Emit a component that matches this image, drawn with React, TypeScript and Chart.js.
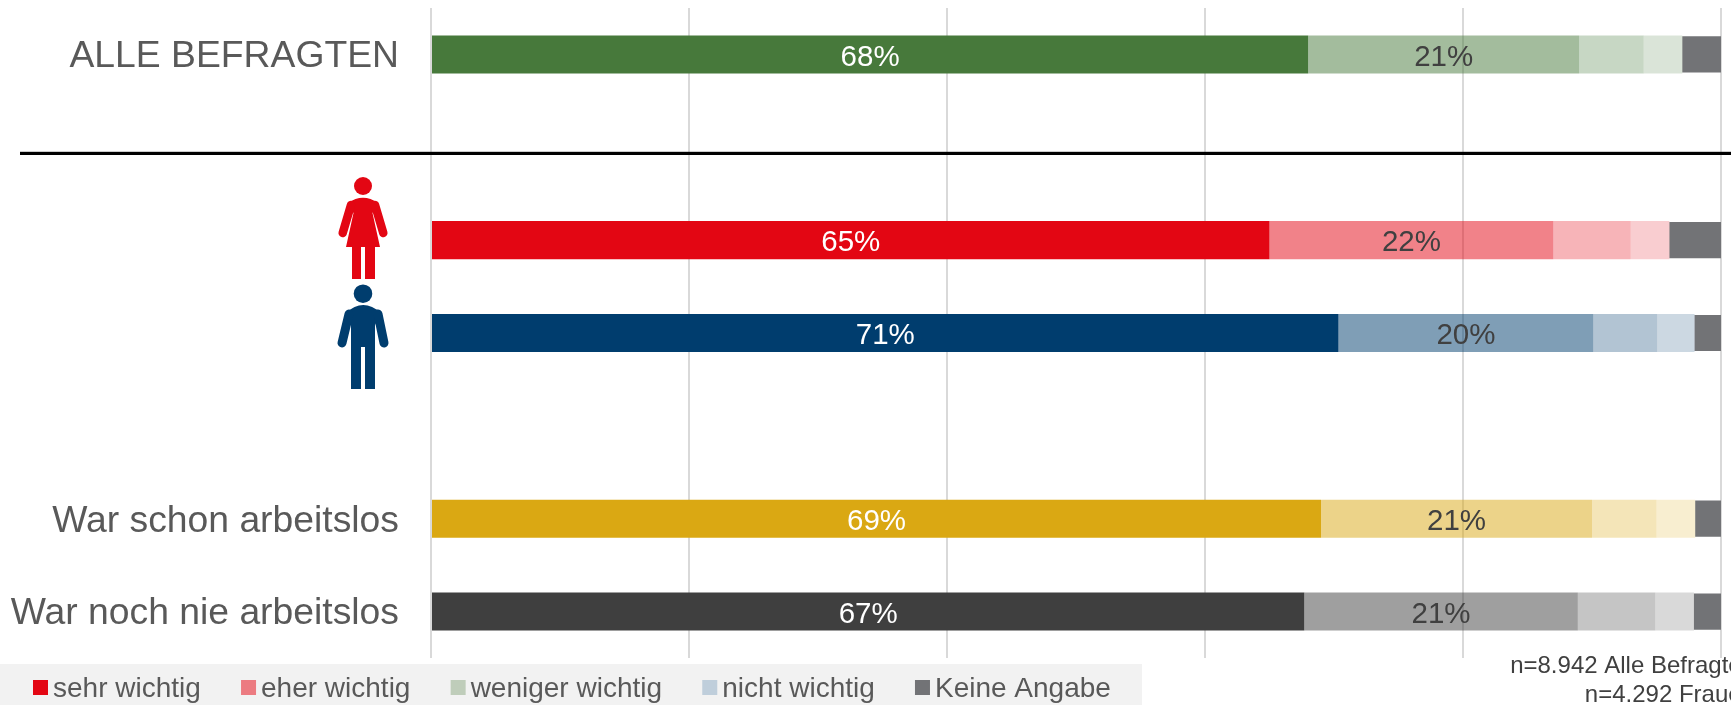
import React, { useEffect, useRef } from "react";
import { Chart, registerables } from "chart.js";

Chart.register(...registerables);

const categories = ["ALLE BEFRAGTEN", "", "", "", "", "War schon arbeitslos", "War noch nie arbeitslos"];
const seriesNames = ["sehr wichtig", "eher wichtig", "weniger wichtig", "nicht wichtig", "Keine Angabe"];

const sehrWichtig = [68, null, 65, 70.35, null, 69, 67.7];
const eherWichtig = [21, null, 22, 19.75, null, 21, 21.2];
const wenigerWichtig = [5, null, 6, 4.95, null, 5, 6];
const nichtWichtig = [3, null, 3, 2.9, null, 3, 3];
const keineAngabe = [3, null, 4, 2.05, null, 2, 2.1];

const sehrLabels = ["68%", "", "65%", "71%", "", "69%", "67%"];
const eherLabels = ["21%", "", "22%", "20%", "", "21%", "21%"];

const rowRgb = ["71,121,59", "", "227,6,19", "0,61,110", "", "218,168,19", "63,63,63"];
const legendColors = ["#E30613", "#EC7B81", "#BFCDBA", "#BFCEDB", "#727376"];
const noteLines = ["n=8.942 Alle Befragten", "n=4.292 Frauen"];

const FONT = '"Liberation Sans", Arial, sans-serif';
const shade = (alpha: number) => rowRgb.map((c) => (c ? `rgba(${c},${alpha})` : "transparent"));

function person(ctx: CanvasRenderingContext2D, female: boolean) {
  const cx = 363;
  ctx.save();
  ctx.lineCap = "round";
  ctx.lineJoin = "round";
  if (female) {
    ctx.fillStyle = ctx.strokeStyle = "#E30613";
    ctx.beginPath();
    ctx.arc(cx, 186, 9, 0, Math.PI * 2);
    ctx.fill();
    ctx.beginPath();
    ctx.moveTo(348, 203);
    ctx.quadraticCurveTo(cx, 192.5, 378, 203);
    ctx.lineTo(372.5, 213);
    ctx.lineTo(380, 247);
    ctx.lineTo(375, 247);
    ctx.lineTo(375, 279);
    ctx.lineTo(365, 279);
    ctx.lineTo(365, 247);
    ctx.lineTo(361, 247);
    ctx.lineTo(361, 279);
    ctx.lineTo(352, 279);
    ctx.lineTo(352, 247);
    ctx.lineTo(346, 247);
    ctx.lineTo(353.5, 213);
    ctx.closePath();
    ctx.fill();
    ctx.lineWidth = 8.5;
    ctx.beginPath();
    ctx.moveTo(351, 205);
    ctx.lineTo(342.7, 233);
    ctx.moveTo(375, 205);
    ctx.lineTo(383.3, 233);
    ctx.stroke();
  } else {
    ctx.fillStyle = ctx.strokeStyle = "#003D6E";
    ctx.beginPath();
    ctx.arc(cx, 293.7, 9.3, 0, Math.PI * 2);
    ctx.fill();
    ctx.beginPath();
    ctx.moveTo(346, 313);
    ctx.quadraticCurveTo(cx, 297, 381, 313);
    ctx.lineTo(375, 325);
    ctx.lineTo(375, 389);
    ctx.lineTo(365, 389);
    ctx.lineTo(365, 347);
    ctx.lineTo(361, 347);
    ctx.lineTo(361, 389);
    ctx.lineTo(351, 389);
    ctx.lineTo(351, 325);
    ctx.closePath();
    ctx.fill();
    ctx.lineWidth = 9;
    ctx.beginPath();
    ctx.moveTo(349, 314);
    ctx.lineTo(342, 343);
    ctx.moveTo(378, 314);
    ctx.lineTo(384, 343);
    ctx.stroke();
  }
  ctx.restore();
}

const overlay = {
  id: "overlay",
  beforeDraw(chart: any) {
    // nudge the category labels down to sit where the reference has them
    chart.scales.y.getLabelItems().forEach((item: any) => {
      if (!item.nudged) {
        item.textOffset += 2.5;
        item.nudged = true;
      }
    });
  },
  afterDraw(chart: any) {
    const ctx: CanvasRenderingContext2D = chart.ctx;
    ctx.save();

    // value labels of the first two series
    ctx.textAlign = "center";
    ctx.textBaseline = "middle";
    ctx.font = `29.5px ${FONT}`;
    [sehrLabels, eherLabels].forEach((labels, d) => {
      const meta = chart.getDatasetMeta(d);
      ctx.fillStyle = d === 0 ? "#FFFFFF" : "#404040";
      labels.forEach((t, i) => {
        if (!t) return;
        const bar = meta.data[i];
        ctx.fillText(t, (bar.x + bar.base) / 2, bar.y + 3);
      });
    });

    // divider
    ctx.fillStyle = "#000000";
    ctx.fillRect(20, 151.8, 1711, 3.2);

    person(ctx, true);
    person(ctx, false);

    // legend
    ctx.fillStyle = "#F2F2F2";
    ctx.fillRect(0, 664, 1142, 41);
    ctx.font = `28px ${FONT}`;
    ctx.textAlign = "left";
    ctx.textBaseline = "alphabetic";
    let x = 33;
    seriesNames.forEach((name, i) => {
      ctx.fillStyle = legendColors[i];
      ctx.fillRect(x, 680, 15, 15);
      ctx.fillStyle = "#595959";
      ctx.fillText(name, x + 20, 697);
      x += 20 + ctx.measureText(name).width + 40.2;
    });

    // sample sizes
    ctx.font = `24px ${FONT}`;
    ctx.fillStyle = "#404040";
    ctx.textAlign = "right";
    noteLines.forEach((line, i) => ctx.fillText(line, 1755, 673 + i * 29));
    ctx.restore();
  },
};

export default function App() {
  const ref = useRef<HTMLCanvasElement>(null);
  useEffect(() => {
    document.body.style.margin = "0";
    document.body.style.overflow = "hidden";
    const chart = new Chart(ref.current!, {
      type: "bar",
      data: {
        labels: categories,
        datasets: [
          { label: seriesNames[0], data: sehrWichtig, backgroundColor: shade(1) },
          { label: seriesNames[1], data: eherWichtig, backgroundColor: shade(0.5) },
          { label: seriesNames[2], data: wenigerWichtig, backgroundColor: shade(0.3) },
          { label: seriesNames[3], data: nichtWichtig, backgroundColor: shade(0.2) },
          { label: seriesNames[4], data: keineAngabe, backgroundColor: "#727376", barPercentage: 0.39 },
        ] as any,
      },
      options: {
        indexAxis: "y",
        animation: false,
        responsive: false,
        layout: { padding: { top: 8, bottom: 47, right: 10, left: 0 } },
        datasets: { bar: { barPercentage: 0.41, categoryPercentage: 1 } },
        plugins: { legend: { display: false }, title: { display: false }, tooltip: { enabled: false } },
        scales: {
          x: {
            stacked: true,
            min: 0,
            max: 100,
            afterFit(scale: any) {
              scale.height = 0;
              scale.paddingLeft = 0;
              scale.paddingRight = 0;
            },
            ticks: { display: false, stepSize: 20 },
            border: { display: false },
            grid: { color: "#D9D9D9", lineWidth: 2, drawTicks: false },
          },
          y: {
            stacked: true,
            afterFit(scale: any) {
              scale.width = 431;
              scale.paddingTop = 0;
              scale.paddingBottom = 0;
            },
            ticks: {
              autoSkip: false,
              padding: 32,
              color: "#595959",
              font: { family: FONT, size: 37.3 },
            },
            border: { display: false },
            grid: { display: false, drawTicks: false },
          },
        },
      } as any,
      plugins: [overlay],
    });
    return () => chart.destroy();
  }, []);
  return (
    <div style={{ position: "fixed", left: 0, top: 0, width: 1731, height: 705, overflow: "hidden", background: "#fff" }}>
      <canvas ref={ref} width={1731} height={705} style={{ display: "block" }} />
    </div>
  );
}
